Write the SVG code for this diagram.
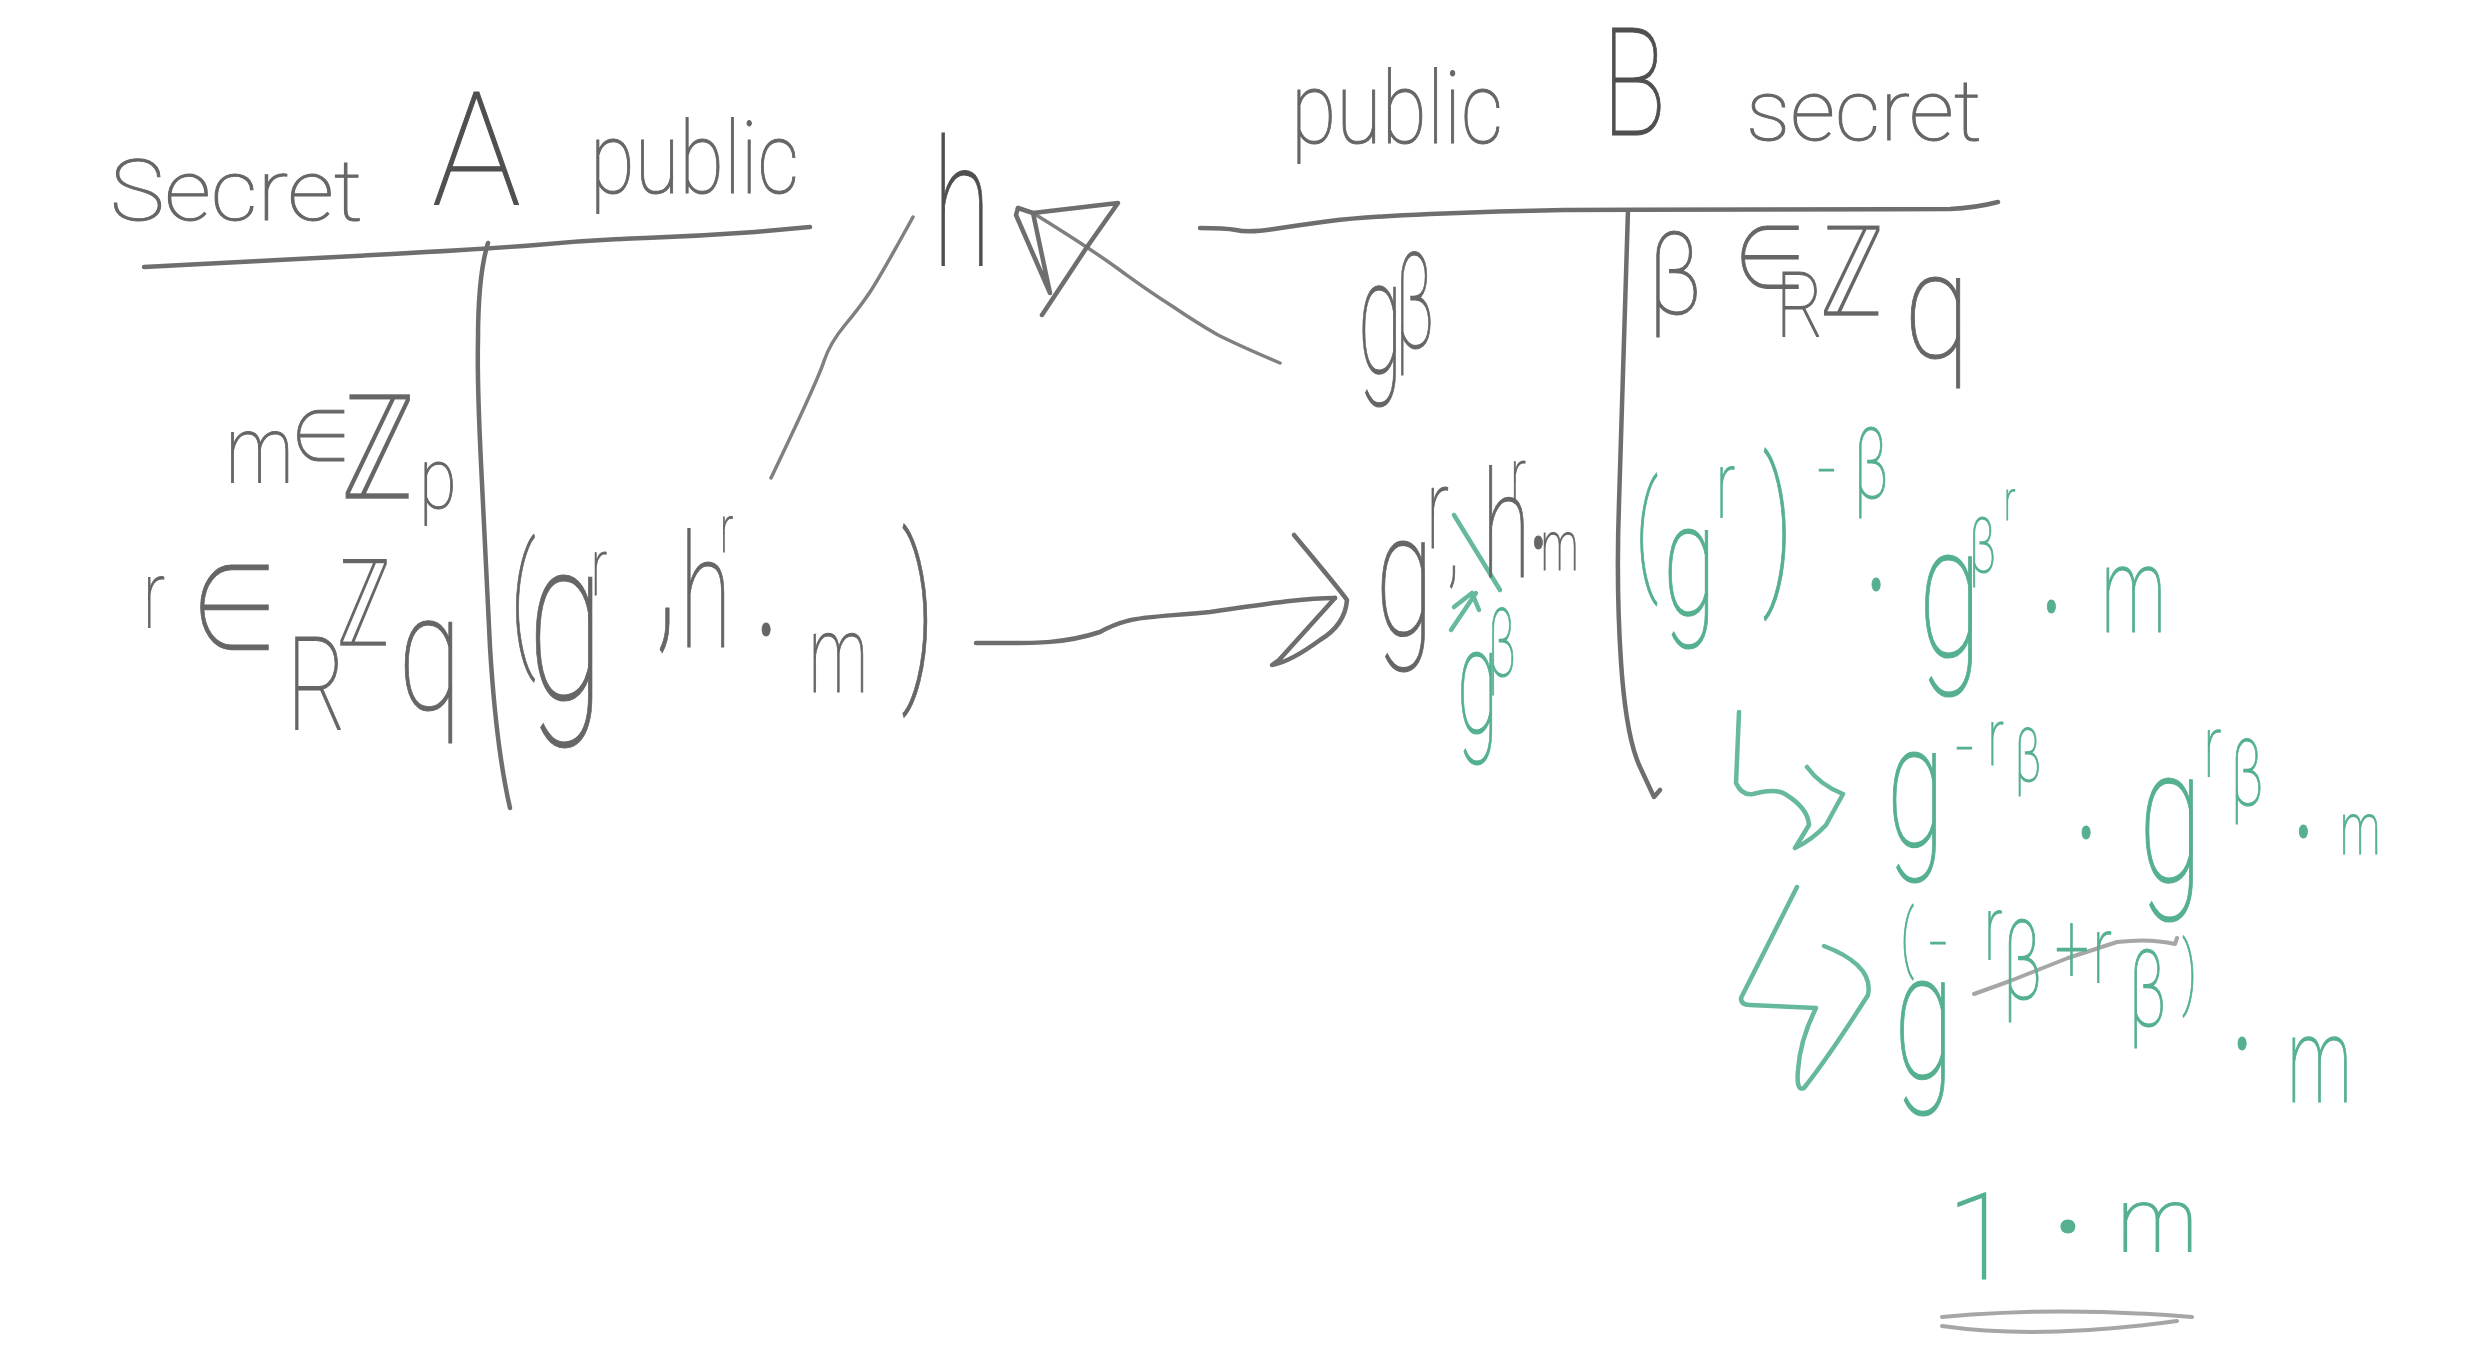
<svg xmlns="http://www.w3.org/2000/svg" width="2488" height="1353" viewBox="0 0 2488 1353">
<defs>
<style>
text{font-family:Roboto,"DejaVu Sans",sans-serif;font-weight:100;fill:#505050;stroke:#505050;stroke-width:1}
.l{fill:#666;stroke:#666}
.gr text{fill:#55b08f;stroke:#55b08f;stroke-width:1.2}
.z{font-family:"DejaVu Sans",sans-serif;stroke:#fff;stroke-width:2.5}
.m{font-family:"Noto Sans CJK JP","DejaVu Sans",sans-serif}
path{fill:none;stroke-linecap:round;stroke-linejoin:round}
.k{stroke:#6e6e6e;stroke-width:4.5}
.t{stroke:#808080;stroke-width:3.5}
.f{stroke:#a6a6a6;stroke-width:4}
.e{stroke:#66b99b;stroke-width:4.5}
.d{font-weight:500}
</style>
<filter id="soft" x="-5%" y="-5%" width="110%" height="110%"><feGaussianBlur stdDeviation="0.7"/></filter>
</defs>
<rect width="2488" height="1353" fill="#fff"/>
<g filter="url(#soft)">
<g id="connectors">
<path class="k" d="M144 267Q300 259 392 254Q483 249 536 245Q590 240 645 238Q700 236 755 232L810 227"/>
<path class="k" d="M488 243Q478 275 478 340Q477 380 481 463Q485 547 490 647Q496 747 510 808"/>
<path class="t" d="M771 478Q818 380 824 361Q830 343 845 325Q860 307 870 292Q880 277 913 217"/>
<path class="t" d="M1033 213Q1088 247 1117 268Q1147 290 1172 306Q1197 323 1218 335Q1240 346 1280 363"/>
<path class="k" d="M1018 208L1033 213L1118 203L1087 247L1042 315"/>
<path class="k" d="M1018 208L1016 215L1050 293L1033 213"/>
<path class="k" d="M1200 228Q1225 228 1236 230Q1248 233 1274 229Q1300 225 1330 221Q1361 217 1430 214Q1500 211 1564 210L1950 209Q1975 208 1998 202"/>
<path class="k" d="M1628 210Q1622 420 1619 503Q1616 587 1621 662Q1626 737 1640 767L1654 797L1660 790"/>
<path class="k" d="M976 643C1030 643 1060 645 1100 632C1130 615 1150 618 1210 612C1260 605 1300 598 1335 598"/>
<path class="k" d="M1294 535Q1340 590 1347 600Q1345 625 1320 640Q1290 662 1272 665L1279 660L1335 598"/>
<path class="e" d="M1454 515L1500 590"/>
<path class="e" d="M1451 630L1476 593M1454 607L1472 593L1479 610"/>
<path class="e" d="M1739 712L1736 783Q1742 796 1753 794Q1775 788 1785 794Q1808 808 1809 825L1795 848Q1812 840 1826 825L1843 794Q1820 785 1807 767"/>
<path class="e" d="M1797 887L1741 998Q1741 1005 1750 1005L1816 1008Q1800 1040 1798 1070Q1796 1092 1804 1088Q1830 1055 1868 995Q1874 965 1824 946"/>
<path class="f" d="M1974 994L2010 981L2068 958L2117 942Q2150 938 2175 944L2177 938"/>
<path class="f" d="M1942 1317Q2060 1306 2192 1317"/>
<path class="f" d="M1942 1326Q2039 1340 2177 1321"/>
</g>
<g id="alice">
<text x="110" y="220" font-size="85" textLength="253" lengthAdjust="spacingAndGlyphs" class="l">Secret</text>
<text x="432" y="205" font-size="158" textLength="89" lengthAdjust="spacingAndGlyphs">A</text>
<text x="590" y="193" font-size="100" textLength="209" lengthAdjust="spacingAndGlyphs" class="l">public</text>
<text transform="scale(.8 1)" class="l"><tspan x="282" y="483" font-size="95">m</tspan><tspan x="362" y="465" font-size="78" class="m">∈</tspan><tspan x="425" y="500" font-size="150" class="z">ℤ</tspan><tspan x="524" y="508" font-size="85">p</tspan></text>
<text transform="scale(.7 1)" class="l"><tspan x="204" y="628" font-size="95">r</tspan><tspan x="270" y="655" font-size="130" class="m">∈</tspan><tspan x="410" y="730" font-size="130">R</tspan><tspan x="480" y="647" font-size="125" class="z">ℤ</tspan><tspan x="569" y="709" font-size="165">q</tspan></text>
<text transform="scale(.6 1)" class="l"><tspan x="850" y="649" font-size="145">(</tspan><tspan x="880" y="699" font-size="230">g</tspan><tspan x="985" y="595" font-size="80">r</tspan><tspan x="1090" y="625" font-size="220">,</tspan><tspan x="1133" y="647" font-size="158">h</tspan><tspan x="1200" y="552" font-size="66">r</tspan><tspan x="1263" y="665" font-size="100" class="d">·</tspan><tspan x="1348" y="692" font-size="110">m</tspan><tspan x="1502" y="674" font-size="190">)</tspan></text>
</g>
<g id="h-label"><text transform="scale(.6 1)" x="1555" y="265" font-size="176">h</text></g>
<g id="bob">
<text x="1291" y="143" font-size="100" textLength="212" lengthAdjust="spacingAndGlyphs" class="l">public</text>
<text x="1602" y="135" font-size="150" textLength="64" lengthAdjust="spacingAndGlyphs">B</text>
<text x="1746" y="140" font-size="85" textLength="236" lengthAdjust="spacingAndGlyphs" class="l">secret</text>
<text transform="scale(.5 1)" class="l"><tspan x="2716" y="373" font-size="162">g</tspan><tspan x="2790" y="348" font-size="134">β</tspan></text>
<text transform="scale(.8 1)" class="l"><tspan x="2060" y="314" font-size="115">β</tspan><tspan x="2165" y="293" font-size="95" class="m">∈</tspan><tspan x="2220" y="337" font-size="91">R</tspan><tspan x="2274" y="317" font-size="130" class="z">ℤ</tspan><tspan x="2380" y="358" font-size="150">q</tspan></text>
<text transform="scale(.6 1)" class="l"><tspan x="2293" y="635" font-size="175">g</tspan><tspan x="2377" y="548" font-size="113">r</tspan><tspan x="2412" y="575" font-size="110">,</tspan><tspan x="2470" y="577" font-size="148">h</tspan><tspan x="2517" y="503" font-size="78">r</tspan><tspan x="2550" y="578" font-size="100" class="d">·</tspan><tspan x="2568" y="570" font-size="70">m</tspan></text>
</g>
<g id="bob-derivation" class="gr">
<text transform="scale(.5 1)"><tspan x="2914" y="733" font-size="150">g</tspan><tspan x="2976" y="676" font-size="95">β</tspan></text>
<text transform="scale(.6 1)"><tspan x="2725" y="576" font-size="130">(</tspan><tspan x="2772" y="615" font-size="160">g</tspan><tspan x="2860" y="518" font-size="95">r</tspan><tspan x="2938" y="582" font-size="168">)</tspan><tspan x="3027" y="492" font-size="60">−</tspan><tspan x="3090" y="498" font-size="98">β</tspan><tspan x="3113" y="620" font-size="100" class="d">·</tspan><tspan x="3198" y="657" font-size="190">g</tspan><tspan x="3282" y="572" font-size="76">β</tspan><tspan x="3340" y="520" font-size="57">r</tspan><tspan x="3405" y="642" font-size="100" class="d">·</tspan><tspan x="3502" y="632" font-size="120">m</tspan></text>
<text transform="scale(.6 1)"><tspan x="3145" y="846" font-size="174">g</tspan><tspan x="3257" y="770" font-size="60">−</tspan><tspan x="3313" y="765" font-size="80">r</tspan><tspan x="3358" y="781" font-size="75">β</tspan><tspan x="3463" y="868" font-size="100" class="d">·</tspan><tspan x="3565" y="881" font-size="192">g</tspan><tspan x="3673" y="777" font-size="87">r</tspan><tspan x="3718" y="805" font-size="93">β</tspan><tspan x="3825" y="867" font-size="100" class="d">·</tspan><tspan x="3900" y="854" font-size="75">m</tspan></text>
<text transform="scale(.6 1)"><tspan x="3157" y="1078" font-size="180">g</tspan><tspan x="3168" y="963" font-size="74">(</tspan><tspan x="3213" y="965" font-size="60">−</tspan><tspan x="3307" y="960" font-size="90">r</tspan><tspan x="3338" y="999" font-size="112">β</tspan><tspan x="3425" y="983" font-size="100">+</tspan><tspan x="3488" y="983" font-size="95">r</tspan><tspan x="3548" y="1026" font-size="107">β</tspan><tspan x="3637" y="999" font-size="80">)</tspan><tspan x="3723" y="1079" font-size="100" class="d">·</tspan><tspan x="3812" y="1102" font-size="120">m</tspan></text>
<text><tspan x="1947" y="1279" font-size="120">1</tspan><tspan x="2054" y="1262" font-size="100" class="d">·</tspan><tspan x="2117" y="1252" font-size="90">m</tspan></text>
</g>
</g>
</svg>
